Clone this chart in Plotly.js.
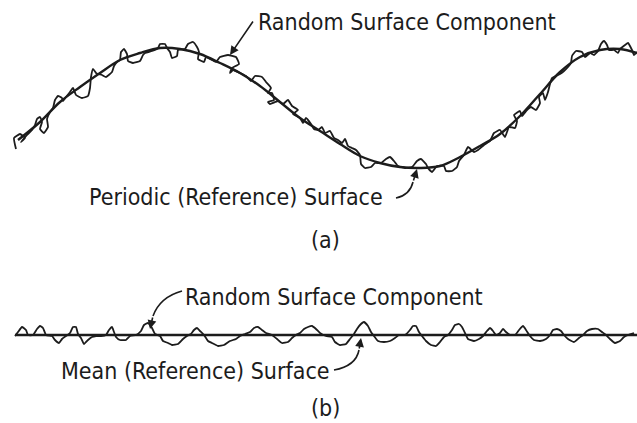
<!DOCTYPE html>
<html>
<head>
<meta charset="utf-8">
<script src="https://cdn.plot.ly/plotly-3.0.1.min.js"></script>
<style>html,body{margin:0;padding:0;background:#fff;}#chart{width:637px;height:423px;}</style>
</head>
<body>
<div id="chart"></div>
<script>
// Panel (a): periodic reference surface (sampled along the drawn curve)
const refAX = [18, 40, 60, 80, 100, 120, 140, 160, 180, 200, 220, 240, 260, 280, 300, 320, 340, 360, 380, 400, 420, 440, 460, 480, 500, 520, 540, 560, 580, 600, 620, 637];
const refAY = [140, 122, 102, 87, 73, 60, 53, 48, 49, 54, 63, 73, 86, 102, 118, 131, 144, 156, 163, 167, 168, 166, 157, 146, 134, 116, 94, 72, 57, 50, 49, 53];

// Panel (a): random surface component riding on the periodic surface
const roughA = [[16,149],[14,138],[20,134],[25,138],[21,142],[27,135],[32,130],[35,125],[37,119],[40,117],[42,122],[40,129],[44,133],[48,127],[47,119],[50,112],[53,108],[55,100],[58,96],[62,98],[63,101],[66,97],[70,92],[73,88],[76,95],[82,98],[88,96],[90,88],[91,77],[93,69],[96,73],[98,74],[102,75],[106,77],[112,72],[114,66],[117,62],[120,60],[121,52],[124,49],[127,54],[128,61],[133,63],[140,61],[143,55],[145,53],[152,51],[158,48],[160,44],[165,44],[167,48],[170,52],[172,58],[177,56],[178,50],[185,49],[188,44],[193,42],[197,47],[199,52],[198,59],[204,62],[206,57],[210,59],[216,62],[220,57],[228,55],[236,57],[239,64],[232,68],[230,73],[233,70],[240,73],[246,76],[251,81],[255,76],[262,77],[266,82],[271,88],[268,93],[272,93],[274,100],[268,102],[270,104],[278,101],[283,104],[288,100],[292,106],[298,110],[293,114],[300,118],[303,123],[306,118],[311,124],[314,129],[318,130],[322,127],[325,133],[330,131],[334,138],[338,140],[342,143],[345,139],[348,146],[352,148],[356,150],[360,155],[361,164],[365,168],[371,167],[375,163],[381,163],[386,159],[390,157],[394,161],[398,166],[405,168],[412,167],[417,161],[421,159],[426,164],[428,168],[432,172],[437,166],[444,166],[446,171],[452,171],[457,167],[459,161],[464,155],[468,147],[474,152],[478,150],[484,145],[490,141],[494,133],[500,130],[505,137],[507,132],[509,127],[515,128],[517,121],[514,115],[520,111],[522,116],[527,110],[531,107],[536,110],[540,103],[539,97],[543,93],[545,100],[548,92],[550,84],[552,78],[556,76],[560,74],[564,71],[568,67],[571,63],[572,56],[576,51],[582,52],[585,57],[590,53],[594,55],[598,51],[601,44],[604,41],[607,45],[609,50],[614,50],[618,53],[620,49],[625,45],[628,43],[632,50],[634,55],[637,52]];

// Panel (b): mean (reference) surface
const refBX = [15, 637];
const refBY = [335, 335];

// Panel (b): random surface component about the mean
const roughB = [[15,336],[18,332],[22,327],[26,330],[28,335],[33,335],[37,329],[40,326],[43,328],[46,335],[52,336],[55,340],[59,343],[62,339],[66,336],[70,333],[73,327],[76,327],[78,334],[81,338],[84,344],[88,340],[92,337],[96,336],[101,336],[106,335],[109,330],[112,327],[114,332],[116,337],[120,340],[126,340],[130,336],[136,335],[141,331],[144,325],[148,323],[152,328],[155,334],[160,336],[163,341],[168,343],[172,345],[178,344],[183,339],[187,336],[191,334],[194,330],[197,328],[200,331],[204,335],[208,341],[212,343],[218,346],[224,345],[230,341],[236,339],[240,336],[245,334],[250,332],[254,328],[258,327],[262,330],[266,333],[272,335],[277,339],[282,343],[288,342],[292,338],[296,335],[300,333],[304,329],[308,327],[312,326],[316,329],[320,333],[326,336],[332,337],[335,342],[340,345],[346,344],[350,339],[354,334],[357,329],[360,325],[364,322],[368,326],[371,332],[374,336],[378,341],[384,342],[390,341],[395,338],[399,335],[405,335],[410,330],[413,326],[416,326],[419,332],[422,336],[426,341],[431,345],[436,346],[440,342],[444,337],[448,335],[452,330],[455,325],[459,324],[462,327],[465,333],[468,339],[474,341],[479,339],[483,336],[487,331],[490,328],[493,331],[496,335],[500,333],[503,329],[506,332],[510,335],[515,335],[519,330],[523,326],[526,330],[530,336],[534,340],[540,341],[546,339],[550,335],[553,330],[557,329],[561,331],[564,335],[568,339],[574,342],[579,338],[583,335],[587,331],[592,329],[598,329],[602,332],[606,335],[610,339],[615,343],[620,341],[624,337],[628,335],[634,333]];

// Labels
const labelRandom = 'Random Surface Component';
const labelPeriodic = 'Periodic (Reference) Surface';
const labelMean = 'Mean (Reference) Surface';
const labelA = '(a)';
const labelB = '(b)';

const ink = '#1c1c1c';
const font = {family: '"DejaVu Sans Condensed", "Liberation Sans", Arial, sans-serif', size: 23, color: ink};

const traces = [
  {x: refAX, y: refAY, mode: 'lines', line: {color: ink, width: 2.4, shape: 'spline', smoothing: 1}, hoverinfo: 'skip'},
  {x: roughA.map(p => p[0]), y: roughA.map(p => p[1]), mode: 'lines', line: {color: ink, width: 1.8, shape: 'spline', smoothing: 0.4}, hoverinfo: 'skip'},
  {x: refBX, y: refBY, mode: 'lines', line: {color: ink, width: 2.4}, hoverinfo: 'skip'},
  {x: roughB.map(p => p[0]), y: roughB.map(p => p[1]), mode: 'lines', line: {color: ink, width: 1.8, shape: 'spline', smoothing: 0.4}, hoverinfo: 'skip'}
];

function txt(t, x, y, anchor) {
  return {text: t, x: x, y: y, xref: 'x', yref: 'y', xanchor: anchor || 'left', yanchor: 'middle', showarrow: false, font: font};
}
function arr(x, y, ax, ay) {
  return {text: '', x: x, y: y, ax: ax, ay: ay, xref: 'x', yref: 'y', axref: 'x', ayref: 'y', showarrow: true, arrowhead: 2, arrowsize: 1.1, arrowwidth: 1.6, arrowcolor: ink};
}

const layout = {
  width: 637, height: 423,
  margin: {l: 0, r: 0, t: 0, b: 0},
  paper_bgcolor: '#ffffff', plot_bgcolor: '#ffffff',
  showlegend: false,
  xaxis: {range: [0, 637], visible: false, fixedrange: true},
  yaxis: {range: [423, 0], visible: false, fixedrange: true},
  annotations: [
    txt(labelRandom, 256, 22),
    arr(230, 55, 254, 20),
    txt(labelPeriodic, 87, 197),
    arr(417, 169, 413, 182),
    txt(labelA, 325, 240, 'center'),
    txt(labelRandom, 183, 297),
    arr(150, 329, 153, 316),
    txt(labelMean, 59, 371),
    arr(361, 338, 359, 350),
    txt(labelB, 325, 408, 'center')
  ],
  shapes: [
    {type: 'path', xref: 'x', yref: 'y', path: 'M 396 198 Q 410 195 413 182', line: {color: ink, width: 1.6}},
    {type: 'path', xref: 'x', yref: 'y', path: 'M 182 291 Q 160 297 153 316', line: {color: ink, width: 1.6}},
    {type: 'path', xref: 'x', yref: 'y', path: 'M 334 370 Q 356 366 359 350', line: {color: ink, width: 1.6}}
  ]
};

Plotly.newPlot('chart', traces, layout, {staticPlot: true, displayModeBar: false});
</script>
</body>
</html>
